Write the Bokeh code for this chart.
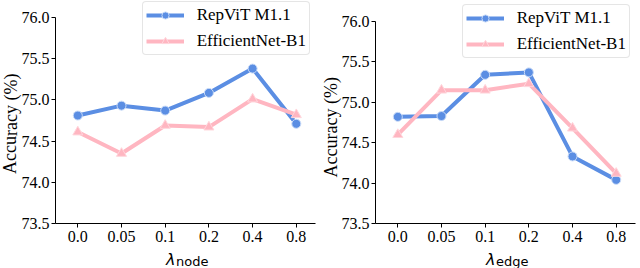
from bokeh.plotting import figure
from bokeh.layouts import row
from bokeh.models import Range1d, FixedTicker, PrintfTickFormatter, Label, Legend, LegendItem
from bokeh.embed import file_html
from bokeh.resources import INLINE

# ---- data ----
lambdas = ["0.0", "0.05", "0.1", "0.2", "0.4", "0.8"]
series_names = ["RepViT M1.1", "EfficientNet-B1"]
node_repvit = [74.81, 74.93, 74.87, 75.085, 75.38, 74.71]
node_effnet = [74.61, 74.35, 74.69, 74.67, 75.01, 74.82]
edge_repvit = [74.82, 74.83, 75.34, 75.37, 74.33, 74.04]
edge_effnet = [74.60, 75.15, 75.15, 75.23, 74.68, 74.12]
y_ticks = [73.5, 74.0, 74.5, 75.0, 75.5, 76.0]
x_subscripts = ["node", "edge"]

BLUE = "#5b8ee3"
PINK = "#ffb6c1"
SERIF = "Liberation Serif"
W, H = 320, 268


def make(rep, eff, sub, fig_left, axis_px, first_px, step_px, axis_end_px,
         top_px, bottom_px, ylab_px, ylab_py, leg_left_px, leg_bottom_px):
    # layout geometry (pixels) -> data ranges; whole figure is the frame
    x0 = (fig_left - first_px) / step_px
    x1 = (fig_left + W - first_px) / step_px
    ppu = (bottom_px - top_px) / (y_ticks[-1] - y_ticks[0])
    y1 = y_ticks[-1] + top_px / ppu
    y0 = y_ticks[0] - (H - bottom_px) / ppu
    xa = (axis_px - first_px) / step_px
    xb = (axis_end_px - first_px) / step_px

    xs = list(range(len(lambdas)))
    p = figure(width=W, height=H, output_backend="svg", toolbar_location=None,
               x_range=Range1d(x0, x1), y_range=Range1d(y0, y1),
               min_border=0)
    p.xgrid.visible = False
    p.ygrid.visible = False
    p.outline_line_color = None
    p.background_fill_color = "white"
    p.border_fill_color = "white"

    p.xaxis.ticker = FixedTicker(ticks=xs)
    p.xaxis.major_label_overrides = {i: s for i, s in enumerate(lambdas)}
    p.xaxis.fixed_location = y_ticks[0]
    p.xaxis.bounds = (xa, xb)
    p.yaxis.ticker = FixedTicker(ticks=y_ticks)
    p.yaxis.formatter = PrintfTickFormatter(format="%.1f")
    p.yaxis.fixed_location = xa
    p.yaxis.bounds = (y_ticks[0], y_ticks[-1])
    for ax in (p.xaxis[0], p.yaxis[0]):
        ax.axis_line_color = "black"
        ax.axis_line_width = 1
        ax.major_tick_line_color = "black"
        ax.major_tick_out = 4
        ax.major_tick_in = 0
        ax.minor_tick_line_color = None
        ax.major_label_text_font = SERIF
        ax.major_label_text_font_style = "normal"
        ax.major_label_text_font_size = "16px"
        ax.major_label_text_color = "black"
    p.xaxis.major_label_standoff = 3
    p.yaxis.major_label_standoff = 2

    l1 = p.line(xs, rep, line_color=BLUE, line_width=4)
    m1 = p.scatter(xs, rep, marker="circle", size=9, fill_color=BLUE,
                   line_color="#c9dbf8", line_width=1)
    l2 = p.line(xs, eff, line_color=PINK, line_width=4)
    m2 = p.scatter(xs, eff, marker="triangle", size=10, fill_color=PINK,
                   line_color="#ffd6dc", line_width=1)

    legend = Legend(items=[LegendItem(label=series_names[0], renderers=[l1, m1]),
                           LegendItem(label=series_names[1], renderers=[l2, m2])],
                    location=(leg_left_px - fig_left, H - leg_bottom_px),
                    margin=0, padding=3, spacing=6,
                    glyph_width=38, glyph_height=18, label_height=18, label_standoff=13,
                    label_text_font=SERIF, label_text_font_size="17px",
                    label_text_color="black",
                    border_line_color="#cccccc", border_line_width=1,
                    background_fill_color="white", background_fill_alpha=0.9)
    legend.border_radius = 4
    p.add_layout(legend)

    cx = (len(lambdas) - 1) / 2
    cx_px = first_px + cx * step_px
    lam_right = cx_px - 11.5
    p.add_layout(Label(x=cx, y=y_ticks[0], text="λ", x_offset=lam_right - cx_px,
                       y_offset=-(259 - bottom_px),
                       text_align="right", text_baseline="alphabetic",
                       text_font="DejaVu Sans", text_font_style="italic",
                       text_font_size="16px", text_color="black"))
    p.add_layout(Label(x=cx, y=y_ticks[0], text=sub, x_offset=lam_right + 0.5 - cx_px,
                       y_offset=-(261 - bottom_px),
                       text_align="left", text_baseline="alphabetic",
                       text_font="DejaVu Sans", text_font_size="13px", text_color="black"))
    ylab_y = y_ticks[-1] - (ylab_py - top_px) / ppu
    p.add_layout(Label(x=xa, y=ylab_y, text="Accuracy (%)", angle=1.5707963,
                       x_offset=ylab_px - axis_px, text_align="center", text_baseline="middle",
                       text_font=SERIF, text_font_size="18px", text_color="black"))
    return p


p1 = make(node_repvit, node_effnet, x_subscripts[0], 0, 55, 77.3, 43.7, 315,
          17, 223, 10, 123.3, 141.7, 55)
p2 = make(edge_repvit, edge_effnet, x_subscripts[1], 320, 375, 397.3, 43.68, 635,
          21, 223, 330, 126.7, 461.7, 58)

layout = row(p1, p2)
open("out.html", "w").write(file_html(layout, INLINE))
